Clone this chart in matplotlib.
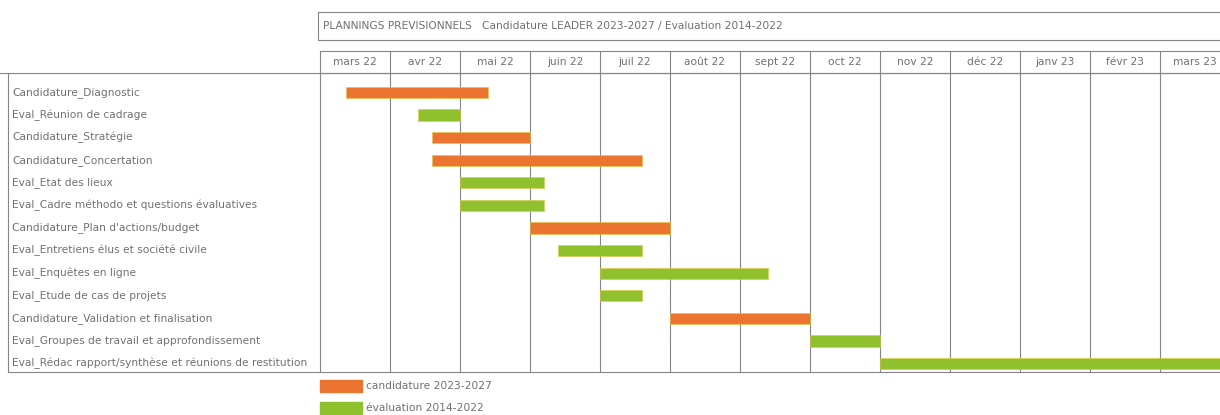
import matplotlib.pyplot as plt
from matplotlib.patches import Rectangle
from matplotlib.lines import Line2D

# months since 1 March 2022
months = ['mars 22', 'avr 22', 'mai 22', 'juin 22', 'juil 22', 'août 22', 'sept 22',
          'oct 22', 'nov 22', 'déc 22', 'janv 23', 'févr 23', 'mars 23']

tasks = [
    'Candidature_Diagnostic',
    'Eval_Réunion de cadrage',
    'Candidature_Stratégie',
    'Candidature_Concertation',
    'Eval_Etat des lieux',
    'Eval_Cadre méthodo et questions évaluatives',
    "Candidature_Plan d'actions/budget",
    'Eval_Entretiens élus et société civile',
    'Eval_Enquêtes en ligne',
    'Eval_Etude de cas de projets',
    'Candidature_Validation et finalisation',
    'Eval_Groupes de travail et approfondissement',
    'Eval_Rédac rapport/synthèse et réunions de restitution',
]
start = [0.37, 1.4, 1.6, 1.6, 2.0, 2.0, 3.0, 3.4, 4.0, 4.0, 5.0, 7.0, 8.0]
end = [2.4, 2.0, 3.0, 4.6, 3.2, 3.2, 5.0, 4.6, 6.4, 4.6, 7.0, 8.0, 13.0]
kind = ['cand', 'eval', 'cand', 'cand', 'eval', 'eval', 'cand', 'eval',
        'eval', 'eval', 'cand', 'eval', 'eval']

colors = {'cand': '#EC7431', 'eval': '#8FC02E'}
legend_labels = {'cand': 'candidature 2023-2027', 'eval': 'évaluation 2014-2022'}

W, H = 1220, 415
txt_col = '#707070'
line_col = '#858585'
fs = 7.7


def fx(px):
    return px / W


def fy(py):
    return 1 - py / H


fig = plt.figure(figsize=(12.2, 4.15), dpi=100)

# main gantt area
ax = fig.add_axes([fx(320), fy(372), fx(1220) - fx(320), (372 - 73) / H])
ax.set_xlim(0, 900 / 70)
ax.set_ylim(12.37, -0.86)
for i in range(len(tasks)):
    ax.barh(i, end[i] - start[i], left=start[i], height=0.5,
            color=colors[kind[i]], edgecolor='#E0C93A', linewidth=0.4, zorder=3)
for m in range(1, len(months)):
    ax.axvline(m, color=line_col, lw=0.8, zorder=1)
ax.set_xticks([])
ax.set_yticks([])
for s in ['left', 'top', 'bottom']:
    ax.spines[s].set_color(line_col)
    ax.spines[s].set_linewidth(0.8)
ax.spines['right'].set_visible(False)

# task labels
for i, t in enumerate(tasks):
    ax.text(-308 / 900, i, t, transform=ax.get_yaxis_transform(),
            ha='left', va='center', fontsize=fs, color=txt_col)

# month header row
hx = fig.add_axes([fx(320), fy(73), fx(1220) - fx(320), (73 - 51) / H], sharex=ax)
hx.set_ylim(0, 1)
for m, lab in enumerate(months):
    hx.text(m + 0.5, 0.5, lab, ha='center', va='center', fontsize=fs, color=txt_col)
    if m > 0:
        hx.axvline(m, color=line_col, lw=0.8)
hx.set_xticks([])
hx.set_yticks([])
for s in ['left', 'top', 'bottom']:
    hx.spines[s].set_color(line_col)
    hx.spines[s].set_linewidth(0.8)
hx.spines['right'].set_visible(False)

# extra frame lines (label box, title box)
frame = [
    ([fx(0), fx(1220)], [fy(73), fy(73)]),
    ([fx(8), fx(320)], [fy(372), fy(372)]),
    ([fx(8), fx(8)], [fy(73), fy(372)]),
    ([fx(318), fx(1220)], [fy(12), fy(12)]),
    ([fx(318), fx(1220)], [fy(40), fy(40)]),
    ([fx(318), fx(318)], [fy(12), fy(40)]),
]
for xs, ys in frame:
    fig.add_artist(Line2D(xs, ys, color=line_col, lw=0.8, transform=fig.transFigure))

fig.text(fx(323), fy(26), 'PLANNINGS PREVISIONNELS   Candidature LEADER 2023-2027 / Evaluation 2014-2022',
         ha='left', va='center', fontsize=fs, color=txt_col)

# legend
for k, py in [('cand', 380), ('eval', 402)]:
    fig.add_artist(Rectangle((fx(320), fy(py + 12)), fx(42), 12 / H,
                             color=colors[k], transform=fig.transFigure))
    fig.text(fx(366), fy(py + 6), legend_labels[k], ha='left', va='center',
             fontsize=fs, color=txt_col)

fig.savefig('out.png', dpi=100)
